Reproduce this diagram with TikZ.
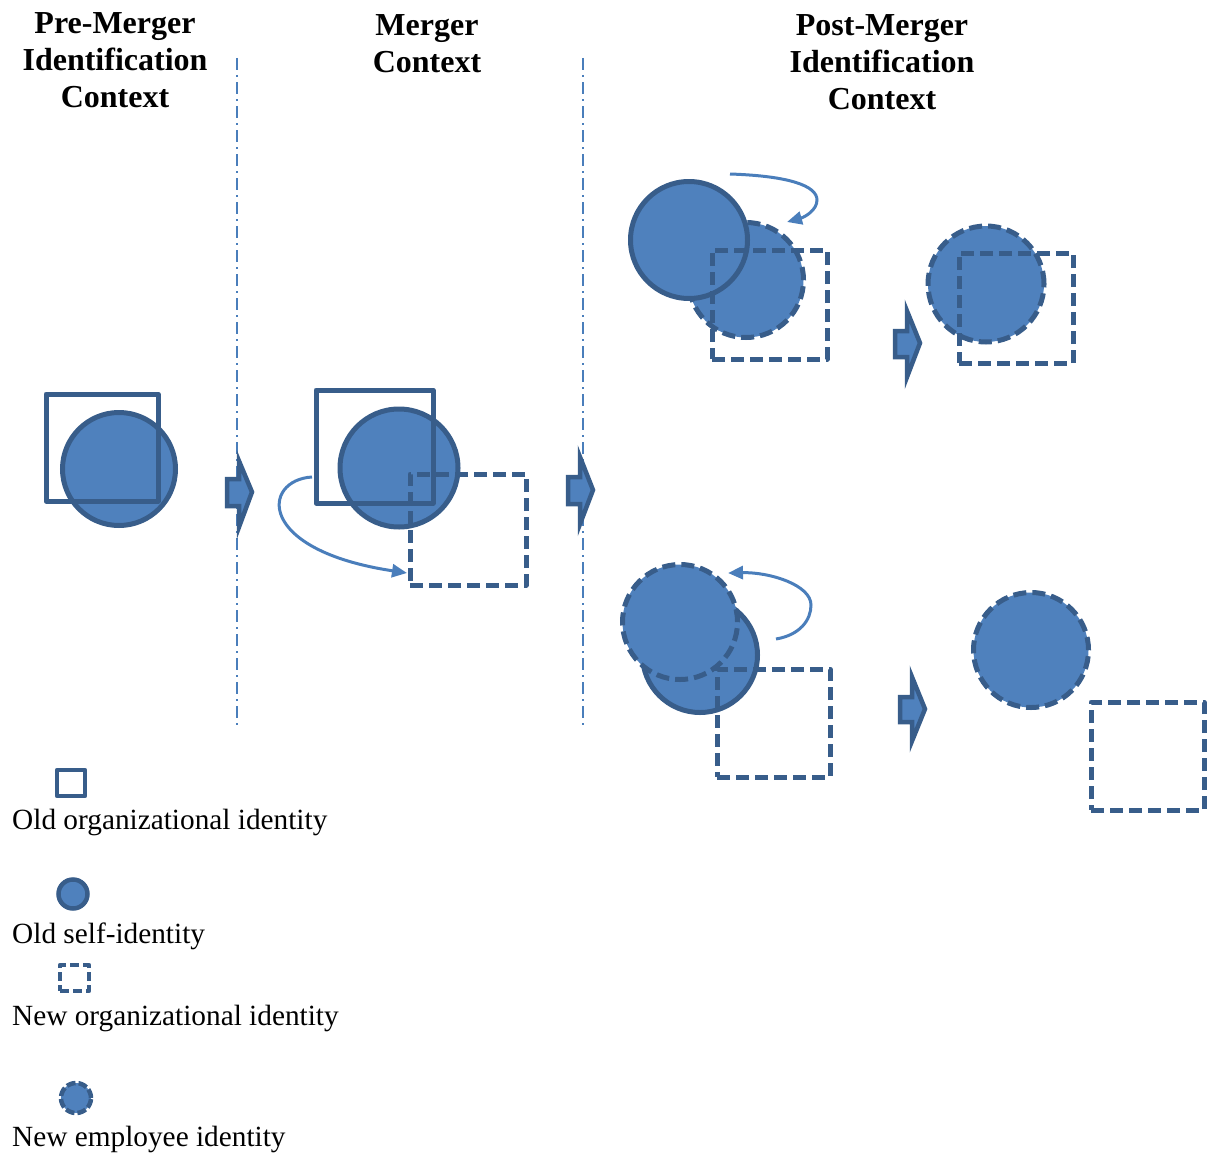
\documentclass[tikz,border=0pt]{standalone}
\usepackage{fontspec}
\setmainfont{Liberation Serif}
\usetikzlibrary{arrows.meta}
\definecolor{fillblue}{HTML}{4F81BD}
\definecolor{edgeblue}{HTML}{385D8A}
\definecolor{curveblue}{HTML}{4A7EBB}
\begin{document}
\begin{tikzpicture}[x=1pt,y=-1pt,
 solidsq/.style={draw=edgeblue, line width=5pt, line join=round, rectangle, inner sep=0pt},
 dashsq/.style={solidsq, dash pattern=on 13pt off 6pt},
 solidcirc/.style={draw=edgeblue, fill=fillblue, line width=5pt, circle, inner sep=0pt},
 dashcirc/.style={solidcirc, dash pattern=on 13pt off 6pt},
 smallsq/.style={draw=edgeblue, line width=4.5pt, line join=round, rectangle, inner sep=0pt},
 smalldashsq/.style={smallsq, dash pattern=on 9pt off 4pt},
 smallcirc/.style={draw=edgeblue, fill=fillblue, line width=4.5pt, circle, inner sep=0pt},
 smalldashcirc/.style={smallcirc, dash pattern=on 9pt off 3pt},
 blockarrow/.style={draw=edgeblue, fill=fillblue, line width=4.5pt, line join=miter},
 divider/.style={draw=curveblue, line width=1.5pt, dash pattern=on 12pt off 5pt on 2pt off 5pt},
 turn/.style={draw=curveblue, line width=3pt, -{Triangle[length=15pt,width=13pt]}},
 title/.style={font=\fontsize{32}{37}\selectfont\bfseries, align=center, inner sep=0pt},
 legendtext/.style={font=\fontsize{29.3}{34}\selectfont, anchor=base west, inner sep=0pt}
]
\useasboundingbox (0,0) rectangle (1210,1156);

% titles
\node[title] (t1) at (115,60) {Pre-Merger\\Identification\\Context};
\node[title] (t2) at (427,44) {Merger\\Context};
\node[title] (t3) at (882,62) {Post-Merger\\Identification\\Context};

% dividers
\coordinate (d1t) at (237,58); \coordinate (d1b) at (237,725);
\coordinate (d2t) at (583,58); \coordinate (d2b) at (583,725);
\draw[divider] (d1t) -- (d1b);
\draw[divider] (d2t) -- (d2b);

% pre-merger
\node[solidcirc, minimum size=113pt] (pc) at (119,469) {};
\node[solidsq, minimum width=112pt, minimum height=107pt] (ps) at (102,447.5) {};

% merger
\node[solidcirc, minimum size=118pt] (mc) at (399,468) {};
\node[solidsq, minimum width=117pt, minimum height=113pt] (ms) at (374.5,446.5) {};
\node[dashsq, minimum width=116pt, minimum height=111pt] (mn) at (468,529.5) {};
\coordinate (m1) at (312,477);
\coordinate (m2) at (407,573);
\draw[turn] (m1) .. controls (262,480) and (255,550) .. (m2);

% post-merger top
\node[dashcirc, minimum size=115pt] (ac2) at (746,280) {};
\node[solidcirc, minimum size=117pt] (ac1) at (689,240) {};
\node[dashsq, minimum width=115pt, minimum height=109pt] (as) at (769.5,304.5) {};
\coordinate (a1) at (730,174);
\coordinate (a2) at (787,222);
\draw[turn] (a1) .. controls (790,176) and (817,186) .. (817,200) .. controls (817,210) and (805,217) .. (a2);

\node[dashcirc, minimum size=116pt] (bc) at (986,284) {};
\node[dashsq, minimum width=114pt, minimum height=110pt] (bs) at (1016,308) {};

% post-merger bottom
\node[solidcirc, minimum size=115pt] (cc1) at (700,655) {};
\node[dashcirc, minimum size=115pt] (cc2) at (680,622) {};
\node[dashsq, minimum width=113pt, minimum height=108pt] (cs) at (773.5,723) {};
\coordinate (c1) at (776,639);
\coordinate (c2) at (728,573);
\draw[turn] (c1) .. controls (800,635) and (811,620) .. (811,605) .. controls (811,585) and (770,572) .. (c2);

\node[dashcirc, minimum size=115pt] (dc) at (1031,650) {};
\node[dashsq, minimum width=113pt, minimum height=108pt] (ds) at (1147.5,756) {};

% block arrows
\draw[blockarrow] (227,479)--(239,479)--(239,461)--(252,492)--(239,527)--(239,506)--(227,506)--cycle;
\draw[blockarrow] (568,477)--(580,477)--(580,457)--(593,490)--(580,524)--(580,504)--(568,504)--cycle;
\draw[blockarrow] (895,331)--(907,331)--(907,311)--(920,343)--(907,377)--(907,357)--(895,357)--cycle;
\draw[blockarrow] (900,697)--(912,697)--(912,677)--(925,709)--(912,741)--(912,722)--(900,722)--cycle;

% legend
\node[smallsq, minimum width=28pt, minimum height=26pt] (l1) at (71,783) {};
\node[legendtext] (lt1) at (12,829) {Old organizational identity};
\node[smallcirc, minimum size=29pt] (l2) at (73,894) {};
\node[legendtext] (lt2) at (12,943) {Old self-identity};
\node[smalldashsq, minimum width=29pt, minimum height=26pt] (l3) at (74.5,978) {};
\node[legendtext] (lt3) at (12,1025) {New organizational identity};
\node[smalldashcirc, minimum size=30pt] (l4) at (76,1098) {};
\node[legendtext] (lt4) at (12,1146) {New employee identity};
\end{tikzpicture}
\end{document}
